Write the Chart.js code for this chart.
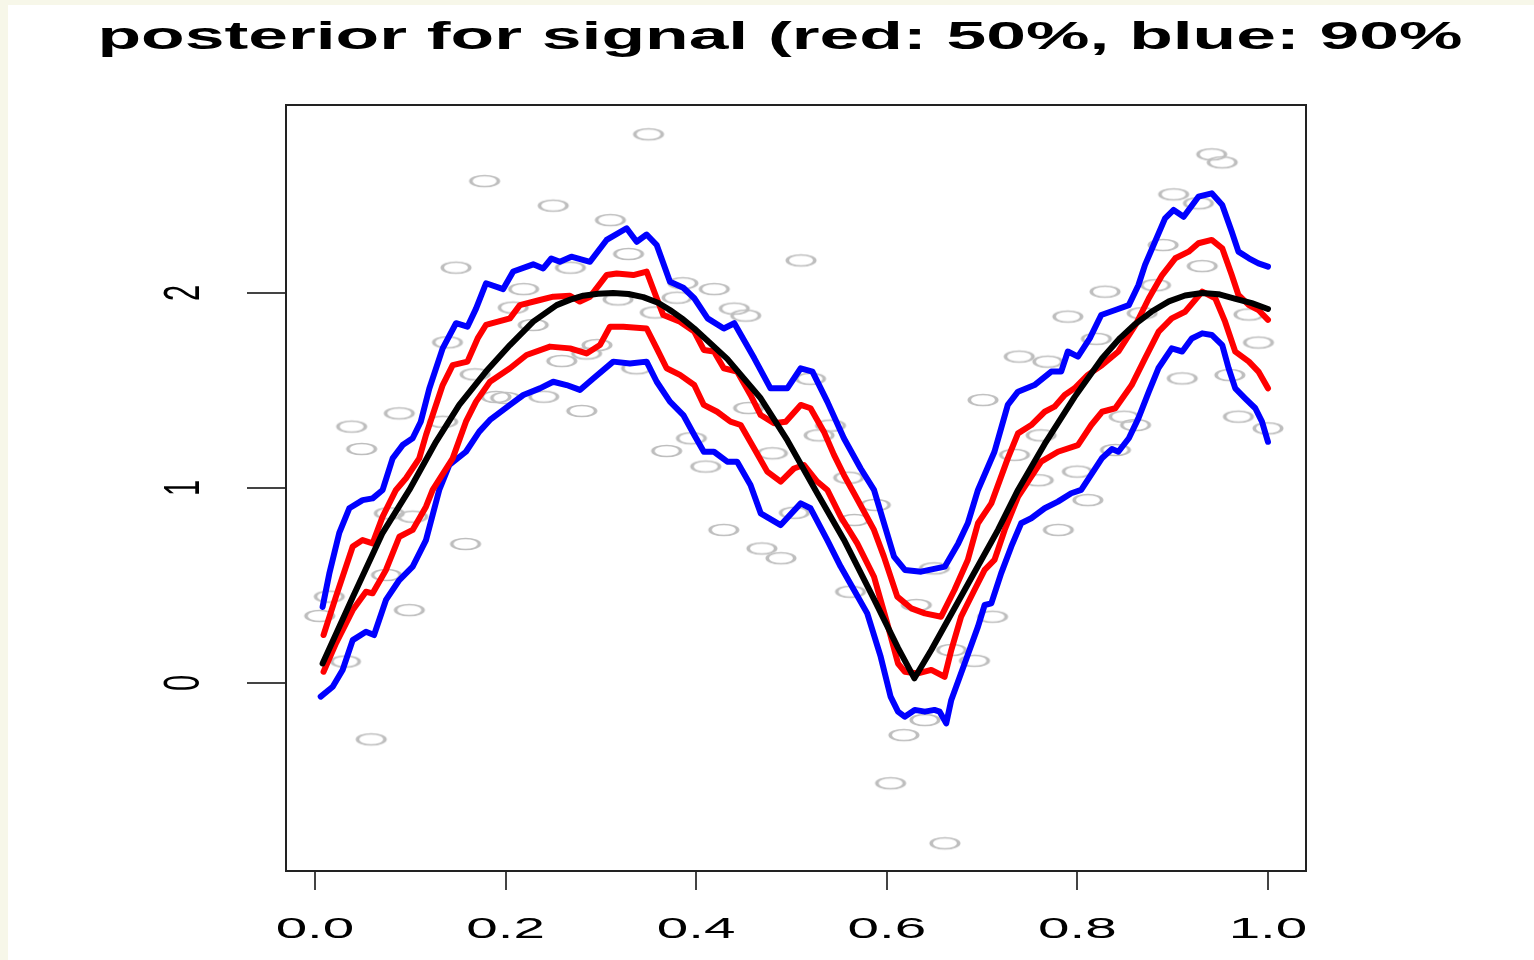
<!DOCTYPE html>
<html>
<head>
<meta charset="utf-8">
<script src="https://cdn.jsdelivr.net/npm/chart.js@4.4.1/dist/chart.umd.min.js"></script>
<style>
  html, body { margin: 0; padding: 0; background: #f7f7e9; }
  #wrap { position: absolute; left: 8px; top: 5px; width: 1526px; height: 955px; background: #fff; }
  canvas { display: block; }
</style>
</head>
<body>
<div id="wrap"><canvas id="chart" width="1526" height="955"></canvas></div>
<script>
const titleText = 'posterior for signal (red: 50%, blue: 90%';
const xTicks = [0, 0.2, 0.4, 0.6, 0.8, 1.0];
const yTicks = [0, 1, 2];

// observed data (grey circles)
const observed = [
  [0.005,0.344],[0.015,0.443],[0.032,0.11],[0.0385,1.315],[0.049,1.2],[0.059,-0.289],[0.075,0.554],[0.078,0.87],
  [0.0885,1.383],[0.099,0.374],[0.1025,0.853],[0.134,1.34],[0.139,1.747],[0.148,2.13],[0.158,0.713],[0.168,1.583],
  [0.178,2.574],[0.19,1.467],[0.20,1.462],[0.208,1.925],[0.219,2.02],[0.229,1.836],[0.24,1.468],[0.25,2.448],
  [0.259,1.651],[0.268,2.13],[0.28,1.395],[0.285,1.69],[0.296,1.733],[0.31,2.374],[0.318,1.967],[0.329,2.2],
  [0.3375,1.614],[0.35,2.814],[0.357,1.9],[0.369,1.19],[0.38,1.976],[0.386,2.05],[0.395,1.255],[0.41,1.11],
  [0.419,2.02],[0.429,0.785],[0.44,1.92],[0.452,1.884],[0.455,1.41],[0.469,0.69],[0.48,1.178],[0.489,0.64],
  [0.503,0.873],[0.51,2.167],[0.52,1.56],[0.529,1.27],[0.541,1.32],[0.56,1.053],[0.562,0.468],[0.566,0.836],
  [0.588,0.913],[0.604,-0.514],[0.618,-0.267],[0.631,0.4],[0.64,-0.19],[0.65,0.588],[0.661,-0.822],[0.668,0.169],
  [0.692,0.114],[0.701,1.451],[0.711,0.34],[0.734,1.17],[0.739,1.674],[0.759,1.04],[0.762,1.27],[0.769,1.648],
  [0.78,0.785],[0.79,1.879],[0.80,1.084],[0.811,0.938],[0.82,1.765],[0.829,2.007],[0.84,1.195],[0.849,1.366],
  [0.861,1.323],[0.868,1.896],[0.882,2.04],[0.89,2.246],[0.901,2.506],[0.91,1.562],[0.927,2.46],[0.931,2.138],
  [0.941,2.711],[0.952,2.67],[0.96,1.579],[0.969,1.366],[0.98,1.89],[0.99,1.746],[1.0,1.306]
];

// true signal (black)
const truth = [
  [0.008,0.10],[0.0396,0.44],[0.071,0.77],[0.099,0.99],[0.127,1.237],[0.1514,1.426],[0.1794,1.597],[0.2046,1.733],
  [0.229,1.853],[0.2536,1.938],[0.268,1.966],[0.2815,1.986],[0.297,1.996],[0.313,2.0],[0.329,1.995],[0.3445,1.979],
  [0.36,1.95],[0.3725,1.913],[0.385,1.87],[0.398,1.818],[0.4326,1.662],[0.4677,1.46],[0.4956,1.245],[0.527,0.973],
  [0.555,0.735],[0.5866,0.43],[0.6118,0.18],[0.629,0.024],[0.6467,0.169],[0.6817,0.477],[0.7167,0.785],[0.7377,0.99],
  [0.7657,1.226],[0.797,1.466],[0.826,1.665],[0.845,1.77],[0.861,1.842],[0.878,1.905],[0.896,1.957],[0.913,1.987],
  [0.931,2.0],[0.948,1.994],[0.966,1.97],[0.983,1.948],[1.0,1.918]
];

// 50% band (red)
const upper50 = [
  [0.009,0.246],[0.022,0.443],[0.0396,0.70],[0.050,0.733],[0.0605,0.716],[0.071,0.853],[0.085,0.99],[0.0955,1.05],
  [0.1094,1.152],[0.1165,1.272],[0.127,1.426],[0.134,1.528],[0.1445,1.63],[0.160,1.648],[0.1707,1.767],[0.1794,1.836],
  [0.2046,1.87],[0.215,1.938],[0.236,1.964],[0.25,1.981],[0.2676,1.986],[0.278,1.956],[0.2886,1.981],[0.306,2.092],
  [0.3166,2.10],[0.334,2.092],[0.348,2.11],[0.3586,1.973],[0.3655,1.887],[0.383,1.853],[0.398,1.802],[0.408,1.708],
  [0.4187,1.70],[0.429,1.614],[0.443,1.597],[0.457,1.477],[0.4677,1.374],[0.4816,1.332],[0.494,1.34],[0.5097,1.426],
  [0.520,1.409],[0.534,1.289],[0.5446,1.17],[0.555,1.067],[0.5656,0.973],[0.5866,0.785],[0.597,0.648],[0.611,0.443],
  [0.6257,0.383],[0.64,0.357],[0.657,0.34],[0.671,0.477],[0.685,0.631],[0.6957,0.819],[0.7097,0.921],[0.727,1.152],
  [0.7377,1.28],[0.7516,1.323],[0.7657,1.391],[0.776,1.417],[0.7867,1.477],[0.797,1.511],[0.811,1.58],[0.826,1.631],
  [0.843,1.70],[0.861,1.836],[0.875,1.973],[0.889,2.092],[0.9027,2.178],[0.9168,2.212],[0.927,2.255],[0.941,2.272],
  [0.952,2.229],[0.962,2.092],[0.969,1.99],[0.98,1.938],[0.990,1.913],[1.0,1.862]
];
const lower50 = [
  [0.009,0.058],[0.022,0.203],[0.0396,0.374],[0.0535,0.468],[0.0605,0.46],[0.0745,0.58],[0.0885,0.75],[0.1025,0.785],
  [0.1165,0.904],[0.1235,0.99],[0.1445,1.152],[0.1584,1.34],[0.169,1.443],[0.1836,1.545],[0.2046,1.614],[0.222,1.682],
  [0.2466,1.725],[0.2676,1.716],[0.285,1.69],[0.299,1.733],[0.3095,1.827],[0.3235,1.827],[0.348,1.818],[0.3586,1.716],
  [0.369,1.614],[0.383,1.58],[0.398,1.528],[0.408,1.426],[0.422,1.391],[0.436,1.34],[0.4467,1.323],[0.4607,1.204],
  [0.4746,1.084],[0.4887,1.033],[0.5026,1.10],[0.513,1.118],[0.527,1.033],[0.5376,0.99],[0.5516,0.853],[0.569,0.716],
  [0.5866,0.545],[0.6005,0.306],[0.6118,0.10],[0.6188,0.058],[0.6327,0.049],[0.6467,0.067],[0.6607,0.032],[0.6677,0.169],
  [0.678,0.34],[0.692,0.477],[0.7027,0.58],[0.713,0.631],[0.7237,0.785],[0.7377,0.955],[0.762,1.135],[0.7796,1.186],
  [0.8006,1.22],[0.8146,1.323],[0.826,1.391],[0.8398,1.409],[0.857,1.528],[0.871,1.665],[0.8853,1.802],[0.899,1.87],
  [0.913,1.904],[0.931,2.007],[0.9447,1.973],[0.955,1.853],[0.9657,1.699],[0.98,1.648],[0.990,1.597],[1.0,1.511]
];

// 90% band (blue)
const upper90 = [
  [0.008,0.39],[0.015,0.56],[0.0255,0.77],[0.036,0.896],[0.050,0.938],[0.0605,0.947],[0.071,0.99],[0.0815,1.152],
  [0.092,1.22],[0.1025,1.255],[0.111,1.34],[0.12,1.51],[0.134,1.716],[0.148,1.845],[0.160,1.827],[0.169,1.92],
  [0.1795,2.05],[0.1975,2.02],[0.208,2.11],[0.229,2.147],[0.2395,2.126],[0.248,2.177],[0.257,2.16],[0.269,2.186],
  [0.2886,2.16],[0.306,2.272],[0.327,2.332],[0.3376,2.263],[0.348,2.3],[0.3586,2.246],[0.3725,2.058],[0.3865,2.027],
  [0.398,1.973],[0.412,1.87],[0.429,1.818],[0.44,1.845],[0.461,1.665],[0.478,1.511],[0.4956,1.511],[0.5097,1.614],
  [0.522,1.597],[0.5376,1.443],[0.555,1.255],[0.5726,1.10],[0.5866,0.99],[0.6076,0.648],[0.619,0.58],[0.636,0.571],
  [0.661,0.597],[0.675,0.716],[0.685,0.819],[0.6957,0.99],[0.713,1.186],[0.727,1.426],[0.7377,1.494],[0.755,1.528],
  [0.7726,1.597],[0.783,1.597],[0.790,1.70],[0.8006,1.674],[0.813,1.767],[0.825,1.887],[0.8398,1.913],[0.854,1.938],
  [0.864,2.04],[0.871,2.144],[0.892,2.383],[0.901,2.426],[0.9115,2.391],[0.927,2.494],[0.941,2.511],[0.952,2.451],
  [0.962,2.314],[0.969,2.212],[0.98,2.178],[0.990,2.152],[1.0,2.135]
];
const lower90 = [
  [0.006,-0.07],[0.0186,-0.019],[0.029,0.067],[0.0396,0.22],[0.0535,0.263],[0.062,0.246],[0.0745,0.426],[0.0885,0.528],
  [0.1025,0.597],[0.1165,0.733],[0.1304,0.99],[0.141,1.118],[0.1584,1.186],[0.1724,1.289],[0.1836,1.349],[0.2046,1.426],
  [0.2186,1.477],[0.236,1.511],[0.25,1.545],[0.264,1.528],[0.278,1.503],[0.292,1.562],[0.313,1.648],[0.3305,1.639],
  [0.348,1.648],[0.3586,1.545],[0.3725,1.443],[0.3865,1.374],[0.398,1.272],[0.408,1.186],[0.4187,1.186],[0.4326,1.135],
  [0.443,1.135],[0.457,1.015],[0.4677,0.87],[0.4887,0.81],[0.5097,0.921],[0.520,0.896],[0.5376,0.733],[0.5516,0.597],
  [0.5656,0.477],[0.5795,0.357],[0.5936,0.135],[0.604,-0.07],[0.6118,-0.147],[0.6188,-0.173],[0.6293,-0.138],[0.64,-0.147],
  [0.650,-0.138],[0.6555,-0.147],[0.6624,-0.207],[0.6677,-0.087],[0.6817,0.10],[0.6957,0.289],[0.7027,0.40],[0.7097,0.408],
  [0.720,0.562],[0.7306,0.699],[0.741,0.819],[0.7516,0.845],[0.7657,0.896],[0.7796,0.93],[0.7936,0.973],[0.804,0.99],
  [0.826,1.154],[0.8363,1.20],[0.843,1.186],[0.854,1.255],[0.864,1.357],[0.875,1.494],[0.885,1.614],[0.899,1.716],
  [0.91,1.70],[0.920,1.767],[0.931,1.793],[0.941,1.785],[0.952,1.733],[0.9587,1.614],[0.9657,1.511],[0.976,1.46],
  [0.9867,1.409],[0.9937,1.34],[1.0,1.237]
];

const toPoints = arr => arr.map(([x, y]) => ({ x, y }));

// open grey circle, stretched sideways like the source image
function ellipseMarker() {
  const c = document.createElement('canvas');
  c.width = 36; c.height = 16;
  const g = c.getContext('2d');
  g.strokeStyle = '#bebebe';
  g.lineWidth = 1.5;
  g.translate(18, 8);
  g.scale(2.45, 1);
  g.beginPath();
  g.arc(0, 0, 5.6, 0, Math.PI * 2);
  g.stroke();
  return c;
}

function lineSet(data, color, order) {
  return {
    data: toPoints(data),
    showLine: true,
    borderColor: color,
    borderWidth: 6,
    borderJoinStyle: 'round',
    borderCapStyle: 'round',
    pointRadius: 0,
    tension: 0,
    order: order
  };
}

const SX = 1.95;
function stretchText(ctx, text, x, y, sx, rotate) {
  ctx.save();
  ctx.translate(x, y);
  ctx.scale(sx, 1);
  if (rotate) ctx.rotate(-Math.PI / 2);
  ctx.fillText(text, 0, 0);
  ctx.restore();
}

const rPlot = {
  id: 'rPlot',
  afterDraw(chart) {
    const ctx = chart.ctx;
    const a = chart.chartArea;
    ctx.save();
    ctx.strokeStyle = '#222';
    ctx.lineWidth = 2;
    ctx.strokeRect(a.left, a.top, a.right - a.left, a.bottom - a.top);

    ctx.fillStyle = '#000';
    ctx.font = 'bold 38px "Liberation Sans", Arial, sans-serif';
    ctx.textAlign = 'center';
    ctx.textBaseline = 'alphabetic';
    const w = ctx.measureText(titleText).width;
    stretchText(ctx, titleText, 772, 44, 1365 / w, false);

    ctx.font = '29px "Liberation Sans", Arial, sans-serif';
    const xs = chart.scales.x;
    xTicks.forEach(v => {
      stretchText(ctx, v.toFixed(1), xs.getPixelForValue(v), 933, SX, false);
    });
    const ys = chart.scales.y;
    yTicks.forEach(v => {
      stretchText(ctx, String(v), 191, ys.getPixelForValue(v), 1.7, true);
    });
    ctx.restore();
  }
};

new Chart(document.getElementById('chart'), {
  type: 'scatter',
  data: {
    datasets: [
      lineSet(truth, '#000000', 0),
      lineSet(upper50, '#ff0000', 1),
      lineSet(lower50, '#ff0000', 1),
      lineSet(upper90, '#0000ff', 2),
      lineSet(lower90, '#0000ff', 2),
      {
        data: toPoints(observed),
        pointStyle: ellipseMarker(),
        pointRadius: 8,
        showLine: false,
        order: 5
      }
    ]
  },
  options: {
    responsive: false,
    animation: false,
    devicePixelRatio: 1,
    layout: { padding: { left: 0, right: 228, top: 100, bottom: 0 } },
    plugins: { legend: { display: false }, tooltip: { enabled: false }, title: { display: false } },
    scales: {
      x: {
        type: 'linear',
        min: -0.0304,
        max: 1.0399,
        afterBuildTicks: s => { s.ticks = xTicks.map(v => ({ value: v })); },
        afterFit: s => { s.height = 89; },
        ticks: { color: 'rgba(0,0,0,0)' },
        border: { display: false },
        grid: { drawOnChartArea: false, drawTicks: true, tickLength: 19, tickColor: '#444', lineWidth: 2 }
      },
      y: {
        type: 'linear',
        min: -0.9641,
        max: 2.9641,
        afterBuildTicks: s => { s.ticks = yTicks.map(v => ({ value: v })); },
        afterFit: s => { s.width = 278; },
        ticks: { color: 'rgba(0,0,0,0)' },
        border: { display: false },
        grid: { drawOnChartArea: false, drawTicks: true, tickLength: 39, tickColor: '#444', lineWidth: 2 }
      }
    }
  },
  plugins: [rPlot]
});
</script>
</body>
</html>
